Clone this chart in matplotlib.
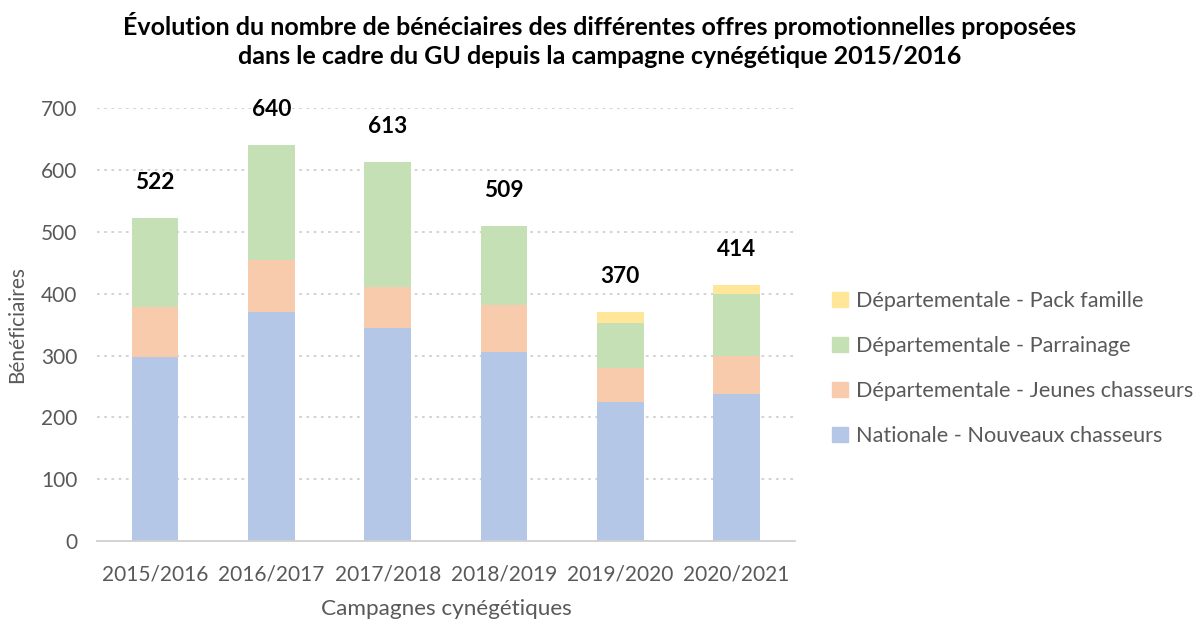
import numpy as np
import matplotlib
matplotlib.use("Agg")
from matplotlib import pyplot as plt
from matplotlib.patches import Patch

plt.rcParams['font.family'] = ['Lato', 'DejaVu Sans']

campagnes   = ["2015/2016", "2016/2017", "2017/2018", "2018/2019", "2019/2020", "2020/2021"]
nationale   = [298, 371, 345, 306, 225, 238]
jeunes      = [80, 84, 65, 75, 54, 62]
parrainage  = [144, 185, 203, 128, 73, 100]
pack        = [0, 0, 0, 0, 18, 14]

series = [
    ("Nationale - Nouveaux chasseurs", nationale, "#b4c7e7"),
    ("Départementale - Jeunes chasseurs", jeunes, "#f8cbad"),
    ("Départementale - Parrainage", parrainage, "#c5e0b4"),
    ("Départementale - Pack famille", pack, "#ffe699"),
]

grey = "#595959"

fig = plt.figure(figsize=(11.99, 6.21), dpi=100)
ax = fig.add_axes([0.0809, 0.1288, 0.582, 0.697])

x = np.arange(len(campagnes))
bottom = np.zeros(len(campagnes))
for name, vals, col in series:
    ax.bar(x, vals, width=0.4, bottom=bottom, color=col, label=name, zorder=2)
    bottom += np.array(vals)

# totals above each stack
for xi, tot in zip(x, bottom):
    ax.text(xi, tot + 58, "%d" % tot, ha="center", va="center",
            fontsize=16.3, fontweight="bold", color="black")

ax.set_xlim(-0.5, len(campagnes) - 0.5)
ax.set_ylim(0, 700)
ax.set_yticks(np.arange(0, 701, 100))
ax.set_xticks(x)
ax.set_xticklabels(campagnes)
ax.tick_params(axis="both", length=0, labelsize=15, colors=grey)
ax.tick_params(axis="y", pad=14)
ax.tick_params(axis="x", pad=17)
ax.yaxis.grid(True, color="#d0d0d0", linestyle=(0, (1.5, 2.5)), linewidth=1.3, zorder=0)
ax.set_axisbelow(True)
for s in ["left", "right", "top"]:
    ax.spines[s].set_visible(False)
ax.spines["bottom"].set_color("#d0d0d0")
ax.spines["bottom"].set_linewidth(1.3)

ax.set_xlabel("Campagnes cynégétiques", fontsize=16.2, color=grey, labelpad=10)
ax.set_ylabel("Bénéficiaires", fontsize=15, color=grey, labelpad=10)

fig.suptitle("Évolution du nombre de bénéciaires des différentes offres promotionnelles proposées\n"
             "dans le cadre du GU depuis la campagne cynégétique 2015/2016",
             x=0.5, y=0.98, fontsize=18, fontweight="bold", linespacing=1.3)

handles = [Patch(color=col, label=name) for name, vals, col in series][::-1]
leg = fig.legend(handles=handles, loc="upper left", bbox_to_anchor=(0.678, 0.562),
                 frameon=False, fontsize=15.6, handlelength=0.7, handleheight=0.7,
                 handletextpad=0.4, labelspacing=1.15, labelcolor=grey)

fig.savefig("out.png", dpi=100)
